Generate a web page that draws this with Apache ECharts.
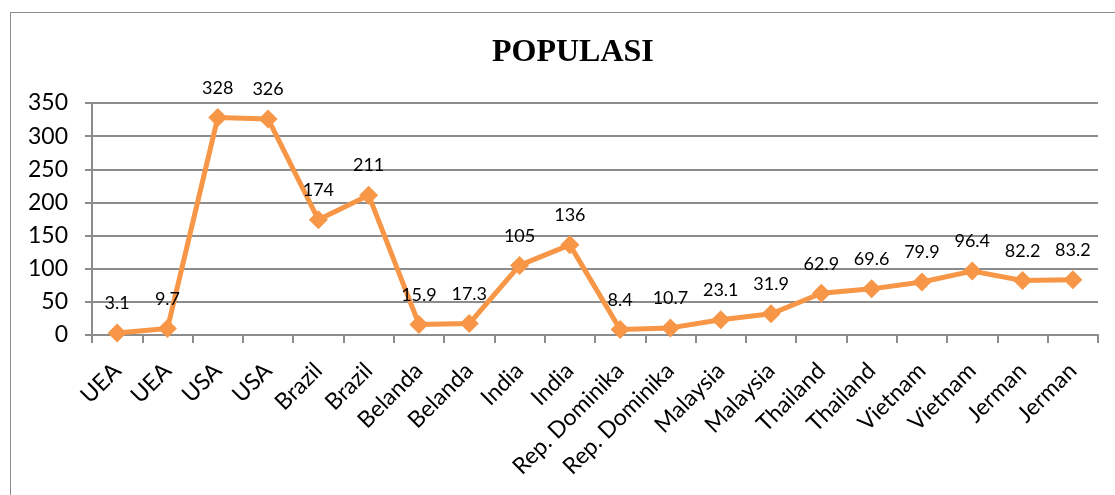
<!DOCTYPE html>
<html>
<head>
<meta charset="utf-8">
<script src="https://cdn.jsdelivr.net/npm/echarts@6/dist/echarts.min.js"></script>
<style>
  html, body { margin: 0; padding: 0; background: #fff; }
  #frame { position: absolute; left: 10px; top: 12px; width: 1200px; height: 600px; border: 1px solid #8c8c8c; }
  #chart { position: absolute; left: 0; top: 0; width: 1115px; height: 495px; }
</style>
</head>
<body>
<div id="frame"></div>
<div id="chart"></div>
<script>
  const categories = ['UEA', 'UEA', 'USA', 'USA', 'Brazil', 'Brazil', 'Belanda', 'Belanda', 'India', 'India',
    'Rep. Dominika', 'Rep. Dominika', 'Malaysia', 'Malaysia', 'Thailand', 'Thailand', 'Vietnam', 'Vietnam', 'Jerman', 'Jerman'];
  const populasi = [3.1, 9.7, 328, 326, 174, 211, 15.9, 17.3, 105, 136, 8.4, 10.7, 23.1, 31.9, 62.9, 69.6, 79.9, 96.4, 82.2, 83.2];

  const chart = echarts.init(document.getElementById('chart'));
  const font = 'Lato, "Open Sans", sans-serif';
  chart.setOption({
    animation: false,
    title: {
      text: 'POPULASI',
      left: 487,
      top: 32,
      textStyle: { fontFamily: '"Liberation Serif", serif', fontWeight: 'bold', fontSize: 32, color: '#000' },
    },
    grid: { left: 92, right: 17, top: 103, bottom: 160 },
    xAxis: {
      type: 'category',
      data: categories,
      boundaryGap: true,
      axisLine: { lineStyle: { color: '#8c8c8c', width: 2 } },
      axisTick: { show: true, length: 8, lineStyle: { color: '#8c8c8c', width: 2 } },
      axisLabel: { rotate: 45, interval: 0, fontFamily: font, fontSize: 23, color: '#000', margin: 32 },
    },
    yAxis: {
      type: 'value',
      min: 0,
      max: 350,
      interval: 50,
      axisLine: { show: true, lineStyle: { color: '#8c8c8c', width: 2 } },
      axisTick: { show: true, length: 7, lineStyle: { color: '#8c8c8c', width: 2 } },
      axisLabel: { fontFamily: font, fontSize: 23, color: '#000', margin: 24 },
      splitLine: { lineStyle: { color: '#8c8c8c', width: 2 } },
    },
    series: [
      {
        name: 'Populasi',
        type: 'line',
        data: populasi,
        symbol: 'diamond',
        symbolSize: 19,
        lineStyle: { color: '#F79646', width: 5 },
        itemStyle: { color: '#F79646' },
        label: {
          show: true,
          position: 'top',
          distance: 11,
          fontFamily: font,
          fontSize: 18,
          color: '#000',
        },
      },
    ],
  });
</script>
</body>
</html>
